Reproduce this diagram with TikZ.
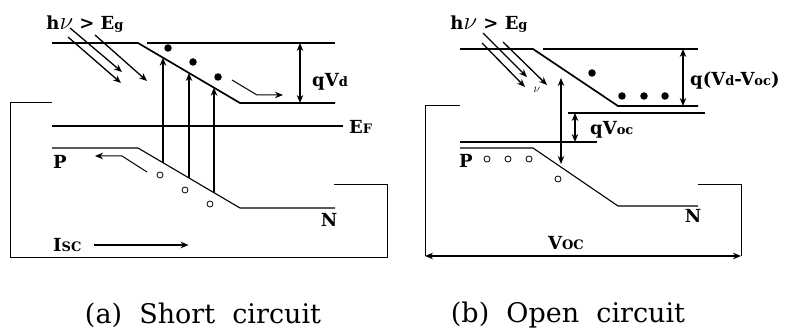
\documentclass[tikz,border=0pt]{standalone}
\usepackage{fontspec}
\setmainfont{DejaVu Serif}
\usepackage{tikz}
\usetikzlibrary{arrows.meta, calc}

\newcommand{\lsub}[1]{{\fontsize{13}{13}\selectfont #1}}
\newcommand{\bignu}{{\fontsize{26}{26}\selectfont$\nu$}}

\begin{document}
\begin{tikzpicture}[
    x=1pt, y=-1pt,
    band/.style={line width=1.7pt},
    level/.style={line width=1.1pt},
    wire/.style={line width=1pt},
    arrow/.style={-{Stealth[length=8pt,width=6.5pt]}, line width=1.3pt},
    doublearrow/.style={{Stealth[length=8pt,width=6.5pt]}-{Stealth[length=8pt,width=6.5pt]}, line width=1.3pt},
    electron/.style={circle, fill=black, inner sep=0pt, minimum size=7.5pt},
    hole/.style={circle, draw=black, line width=0.8pt, fill=white, inner sep=0pt, minimum size=6pt},
    lbl/.style={font=\fontsize{18}{20}\selectfont\bfseries, inner sep=0pt},
    caption/.style={font=\fontsize{27}{30}\selectfont, inner sep=0pt}
]
\useasboundingbox (0,0) rectangle (798,336);

% (a) Short circuit
\coordinate (acL) at (52,43);  \coordinate (acA) at (138,43);
\coordinate (acB) at (240,103); \coordinate (acR) at (335,103);
\coordinate (avL) at (52,148); \coordinate (avA) at (138,148);
\coordinate (avB) at (240,208); \coordinate (avR) at (335,208);

\draw[band] (acL) -- (acA) -- (acB) -- (acR);
\draw[level] (avL) -- (avA) -- (avB) -- (avR);
\draw[level] (147,43) -- (335,43);
\draw[level] (52,126) -- (343,126);

\foreach \t in {0.245,0.5,0.745}
    \draw[arrow] ($(avA)!\t!(avB)$) -- ($(acA)!\t!(acB)$);

\node[electron] (ae1) at (168,48) {};
\node[electron] (ae2) at (193,62) {};
\node[electron] (ae3) at (218,77) {};
\node[hole] (ah1) at (160,175) {};
\node[hole] (ah2) at (185,190) {};
\node[hole] (ah3) at (210,204) {};

\draw[arrow, line width=1pt] (232,80) -- (257,95) -- (283,95);
\draw[arrow, line width=1pt] (147,172) -- (122,156) -- (95,156);

\draw[arrow] (70,28) -- (122,72);
\draw[arrow] (68,37) -- (121,83);
\draw[arrow] (95,35) -- (147,81);

\draw[doublearrow] (300,43) -- (300,103);

\node[lbl] (ahv) at (85,24) {h\bignu{} > E\lsub{g}};
\node[lbl, anchor=west] (aqvd) at (312,82) {qV\lsub{d}};
\node[lbl, anchor=west] (aef) at (349,127) {E\lsub{F}};
\node[lbl] (ap) at (60,162) {P};
\node[lbl] (an) at (329,220) {N};
\node[lbl, anchor=west] (aisc) at (53,245) {I\lsub{SC}};
\draw[arrow] (aisc.east) ++(12,0) coordinate (aiscA) -- ++(95,0);

\draw[wire] (acL |- acB) -- (10,103) -- (10,258) -- (387,258) -- (387,185) -- (334,185);

\node[caption] (capa) at (203,315) {(a)~~Short~~circuit};

% (b) Open circuit
\coordinate (bcL) at (460,49);  \coordinate (bcA) at (533,49);
\coordinate (bcB) at (618,106); \coordinate (bcR) at (698,106);
\coordinate (bvL) at (460,148); \coordinate (bvA) at (533,148);
\coordinate (bvB) at (618,206); \coordinate (bvR) at (698,206);

\draw[band] (bcL) -- (bcA) -- (bcB) -- (bcR);
\draw[level] (bvL) -- (bvA) -- (bvB) -- (bvR);
\draw[level] (543,49) -- (698,49);
\draw[level] (568,113) -- (705,113);
\draw[level] (460,142) -- (597,142);

\node[electron] (be1) at (592,73) {};
\node[electron] (be2) at (622,96) {};
\node[electron] (be3) at (644,96) {};
\node[electron] (be4) at (665,96) {};
\node[hole] (bh1) at (487,159) {};
\node[hole] (bh2) at (508,159) {};
\node[hole] (bh3) at (529,159) {};
\node[hole] (bh4) at (558,179) {};

\draw[arrow] (483,33) -- (527,77);
\draw[arrow] (482,43) -- (525,87);
\draw[arrow] (503,42) -- (547,85);
\node[font=\fontsize{12}{12}\selectfont] (bnu) at (537,90) {$\nu$};

\draw[doublearrow] (683,49) -- (683,106);
\draw[doublearrow] (575,113) -- (575,142);
\draw[doublearrow] (561,78) -- (561,164);

\node[lbl] (bhv) at (489,24) {h\bignu{} > E\lsub{g}};
\node[lbl, anchor=west] (bqvv) at (690,81) {q(V\lsub{d}-V\lsub{oc})};
\node[lbl, anchor=west] (bqvoc) at (590,130) {qV\lsub{oc}};
\node[lbl] (bp) at (466,161) {P};
\node[lbl] (bn) at (693,216) {N};
\node[lbl] (bvoc) at (566,243) {V\lsub{OC}};

\draw[wire] (bcL |- bcB) -- (425,106) -- (425,256);
\draw[wire] (698,185) -- (741,185) -- (741,256);
\draw[doublearrow] (425,256) -- (741,256);

\node[caption] (capb) at (568,315) {(b)~~Open~~circuit};

\end{tikzpicture}
\end{document}
